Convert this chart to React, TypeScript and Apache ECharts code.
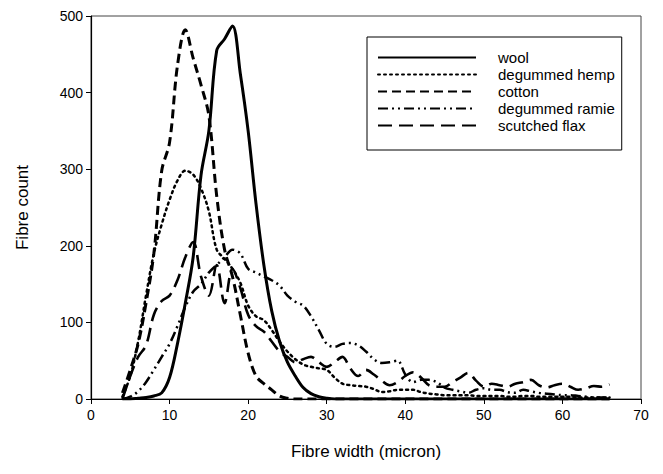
import React, { useEffect, useRef } from "react";
import * as echarts from "echarts";

const widths = [4,5,6,7,8,9,10,11,12,13,14,15,16,17,18,19,20,21,22,23,24,25,26,27,28,29,30,31,32,33,34,35,36,37,38,39,40,41,42,43,44,45,46,47,48,49,50,51,52,53,54,55,56,57,58,59,60,61,62,63,64,65,66];

const wool = [0,0,1,2,4,8,28,72,125,185,292,350,455,470,487,425,350,255,175,115,75,48,30,15,7,3,1,0,0,0,0,0,0,0,0,0,0,0,0,0,0,0,0,0,0,0,0,0,0,0,0,0,0,0,0,0,0,0,0,0,0,0,0];
const hemp = [3,30,75,135,190,228,260,285,298,293,275,245,195,183,170,152,122,108,103,90,75,62,52,45,42,40,38,28,20,18,17,16,13,9,10,12,12,12,9,7,6,5,5,5,5,4,4,4,4,3,3,4,4,3,3,3,3,3,2,2,2,2,2];
const cotton = [8,38,72,125,190,298,335,435,482,445,410,370,265,195,160,110,60,30,20,12,4,1,0,0,0,0,0,0,0,0,0,0,0,0,0,0,0,0,0,0,0,0,0,0,0,0,0,0,0,0,0,0,0,0,0,0,0,0,0,0,0,0,0];
const ramie = [0,3,10,22,38,55,72,95,120,140,150,165,175,185,195,190,170,165,160,155,148,135,127,122,108,90,72,68,72,73,70,62,52,47,48,50,32,22,25,25,22,15,12,10,8,12,14,12,12,9,8,12,10,8,7,6,5,5,4,3,2,2,1];
const flax = [0,30,55,70,110,128,135,155,185,205,160,135,175,125,170,145,110,95,88,75,62,55,48,52,55,48,42,48,55,40,30,38,32,24,18,22,30,35,28,18,16,16,22,28,34,24,16,20,18,16,20,22,25,18,15,18,20,16,12,14,17,16,19];

const seriesNames = ["wool", "degummed hemp", "cotton", "degummed ramie", "scutched flax"];
const seriesValues = [wool, hemp, cotton, ramie, flax];
const dashTypes: any[] = ["solid", [2, 4], [9, 5], [10, 4, 2, 4, 2, 4], [14, 7]];
const lineWidths = [3, 2.5, 3, 2.5, 2.6];

const xTicks = { min: 0, max: 70, interval: 10 };
const yTicks = { min: 0, max: 500, interval: 100 };

export default function App() {
  const ref = useRef<HTMLDivElement>(null);
  useEffect(() => {
    if (!ref.current) return;
    const chart = echarts.init(ref.current, null, { renderer: "svg" });
    const font = "'Liberation Sans', Arial, sans-serif";
    chart.setOption({
      animation: false,
      backgroundColor: "#fff",
      textStyle: { fontFamily: font, color: "#000" },
      grid: {
        left: 91,
        right: 22,
        top: 16,
        bottom: 75,
        show: true,
        borderColor: "#444",
        borderWidth: 1,
      },
      legend: {
        orient: "vertical",
        left: 367,
        top: 37,
        padding: [13, 7, 17, 10],
        borderColor: "#000",
        borderWidth: 1,
        itemWidth: 98,
        itemHeight: 14,
        itemGap: 2,
        itemStyle: { opacity: 0 },
        textStyle: { fontSize: 15, lineHeight: 14, color: "#000", fontFamily: font, padding: [0, 0, 0, 17] },
        data: seriesNames,
      },
      xAxis: {
        type: "value",
        min: xTicks.min,
        max: xTicks.max,
        interval: xTicks.interval,
        name: "Fibre width (micron)",
        nameLocation: "middle",
        nameGap: 44,
        nameTextStyle: { fontSize: 17, color: "#000", fontFamily: font },
        axisLine: { lineStyle: { color: "#000", width: 1.2 } },
        axisTick: { show: true, length: 5, lineStyle: { color: "#000" } },
        axisLabel: { fontSize: 14, color: "#000", margin: 9, fontFamily: font },
        splitLine: { show: false },
      },
      yAxis: {
        type: "value",
        min: yTicks.min,
        max: yTicks.max,
        interval: yTicks.interval,
        name: "Fibre count",
        nameLocation: "middle",
        nameGap: 60,
        nameRotate: 90,
        nameTextStyle: { fontSize: 17, color: "#000", fontFamily: font },
        axisLine: { show: true, lineStyle: { color: "#000", width: 1.2 } },
        axisTick: { show: true, length: 5, lineStyle: { color: "#000" } },
        axisLabel: { fontSize: 14, color: "#000", margin: 8, fontFamily: font },
        splitLine: { show: false },
      },
      series: seriesNames.map((name, i) => ({
        name,
        type: "line",
        data: widths.map((w, j) => [w, seriesValues[i][j]]),
        smooth: 0.35,
        symbol: "none",
        showSymbol: false,
        lineStyle: {
          color: "#000",
          width: lineWidths[i],
          type: dashTypes[i],
          cap: i === 1 ? "round" : "butt",
        },
        itemStyle: { color: "#000" },
      })),
    });
    return () => chart.dispose();
  }, []);
  return <div ref={ref} style={{ width: 663, height: 474, position: "absolute", left: 0, top: 0 }} />;
}
